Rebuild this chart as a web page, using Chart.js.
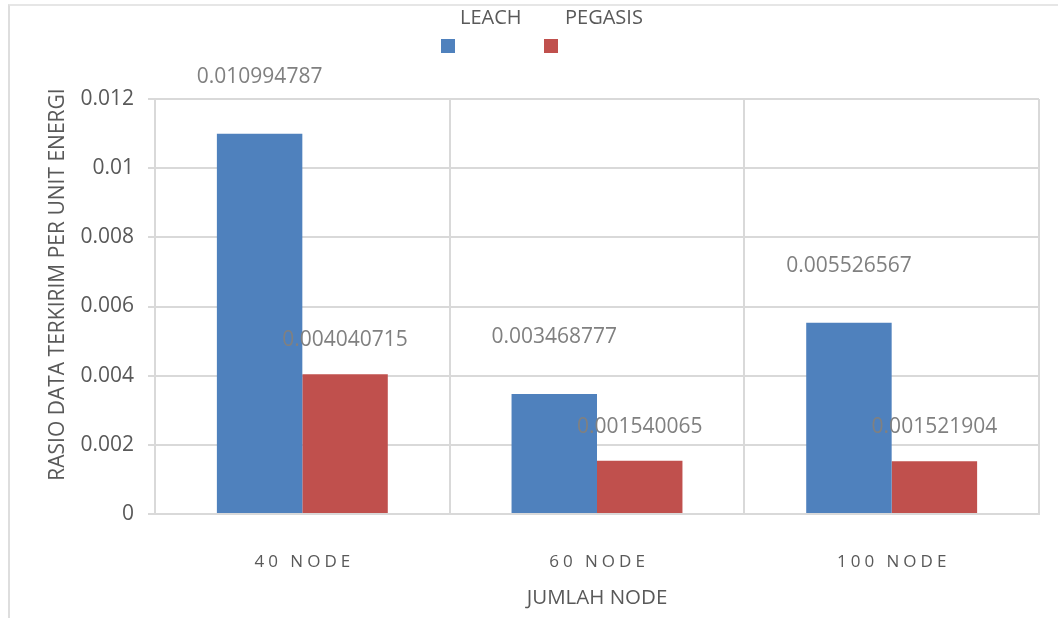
<!DOCTYPE html>
<html>
<head>
<meta charset="utf-8">
<script src="https://cdn.jsdelivr.net/npm/chart.js"></script>
<style>
  html, body { margin: 0; padding: 0; background: #fff; }
  #wrap { position: relative; width: 1058px; height: 618px; overflow: hidden; }
  #frame { position: absolute; left: 8px; top: 4px; width: 1200px; height: 800px;
           border-left: 2px solid #dedede; border-top: 2px solid #e6e6e6; }
  canvas { position: absolute; left: 0; top: 0; }
</style>
</head>
<body>
<div id="wrap">
  <div id="frame"></div>
  <canvas id="rasioChart" width="1058" height="618"></canvas>
</div>
<script>
    var categories = ['40 NODE', '60 NODE', '100 NODE'];
    var seriesNames = ['LEACH', 'PEGASIS'];
    var leachData = [0.010994787, 0.003468777, 0.005526567];
    var pegasisData = [0.004040715, 0.001540065, 0.001521904];
    var yTicks = [0, 0.002, 0.004, 0.006, 0.008, 0.01, 0.012];
    var yTitle = 'RASIO DATA TERKIRIM PER UNIT ENERGI';

    var barColors = ['#4f81bd', '#c0504d'];
    var textGray = '#595959';
    var gridGray = '#d9d9d9';

    // value labels, category labels (letter spaced), y title and legend
    var extras = {
        id: 'extras',
        afterDatasetsDraw: function (chart) {
            var ctx = chart.ctx;
            var rise = [57, 34];
            ctx.save();
            ctx.font = '21px "Open Sans"';
            ctx.fillStyle = '#808080';
            ctx.textAlign = 'center';
            ctx.textBaseline = 'middle';
            chart.data.datasets.forEach(function (ds, i) {
                chart.getDatasetMeta(i).data.forEach(function (bar, j) {
                    ctx.fillText(String(ds.data[j]), bar.x, bar.y - rise[i]);
                });
            });
            ctx.restore();
        },
        afterDraw: function (chart) {
            var ctx = chart.ctx;
            var xs = chart.scales.x;
            var area = chart.chartArea;
            ctx.save();
            ctx.fillStyle = textGray;
            ctx.textBaseline = 'middle';
            ctx.textAlign = 'center';
            ctx.font = '17px "Open Sans"';
            ctx.letterSpacing = '4px';
            categories.forEach(function (c, j) {
                ctx.fillText(c, xs.getPixelForValue(j) + 2, xs.top + 48);
            });
            ctx.letterSpacing = '0px';

            // rotated y title, sitting a little above the plot middle
            ctx.save();
            ctx.translate(58, (area.top + area.bottom) / 2 - 22);
            ctx.rotate(-Math.PI / 2);
            ctx.font = '21px "Open Sans"';
            ctx.fillText(yTitle, 0, 0);
            ctx.restore();

            // legend: text above, swatch below
            var items = [{ tx: 460, bx: 441 }, { tx: 565, bx: 544 }];
            ctx.textAlign = 'left';
            ctx.font = '20px "Open Sans"';
            seriesNames.forEach(function (name, i) {
                ctx.fillStyle = textGray;
                ctx.fillText(name, items[i].tx, 18);
                ctx.fillStyle = barColors[i];
                ctx.fillRect(items[i].bx, 39, 14, 14);
            });
            ctx.restore();
        }
    };

    var ctx = document.getElementById('rasioChart').getContext('2d');
    var rasioChart = new Chart(ctx, {
        type: 'bar',
        data: {
            labels: categories,
            datasets: [{
                label: seriesNames[0],
                data: leachData,
                backgroundColor: barColors[0]
            }, {
                label: seriesNames[1],
                data: pegasisData,
                backgroundColor: barColors[1]
            }]
        },
        options: {
            responsive: false,
            animation: false,
            devicePixelRatio: 1,
            layout: { padding: { top: 99, right: 19, left: 0, bottom: 0 } },
            datasets: { bar: { categoryPercentage: 0.58, barPercentage: 1.0 } },
            plugins: {
                legend: { display: false },
                tooltip: { enabled: false }
            },
            scales: {
                x: {
                    grid: { color: gridGray, lineWidth: 2, drawTicks: false, offset: true },
                    border: { color: gridGray, width: 2 },
                    ticks: { color: 'rgba(0,0,0,0)', font: { family: 'Open Sans', size: 17 }, padding: 40 },
                    title: {
                        display: true, text: 'JUMLAH NODE', color: textGray,
                        font: { family: 'Open Sans', size: 20.5 }, padding: { top: 0, bottom: 8 }
                    },
                    afterFit: function (s) { s.height = 104; }
                },
                y: {
                    min: 0,
                    max: 0.012,
                    afterBuildTicks: function (s) {
                        s.ticks = yTicks.map(function (v) { return { value: v }; });
                    },
                    grid: { color: gridGray, lineWidth: 2, tickLength: 7 },
                    border: { color: gridGray, width: 2 },
                    ticks: {
                        color: textGray, font: { family: 'Open Sans', size: 21 }, padding: 14,
                        callback: function (v) { return String(Number(v.toFixed(3))); }
                    },
                    afterFit: function (s) { s.width = 155; }
                }
            }
        },
        plugins: [extras]
    });
</script>
</body>
</html>
